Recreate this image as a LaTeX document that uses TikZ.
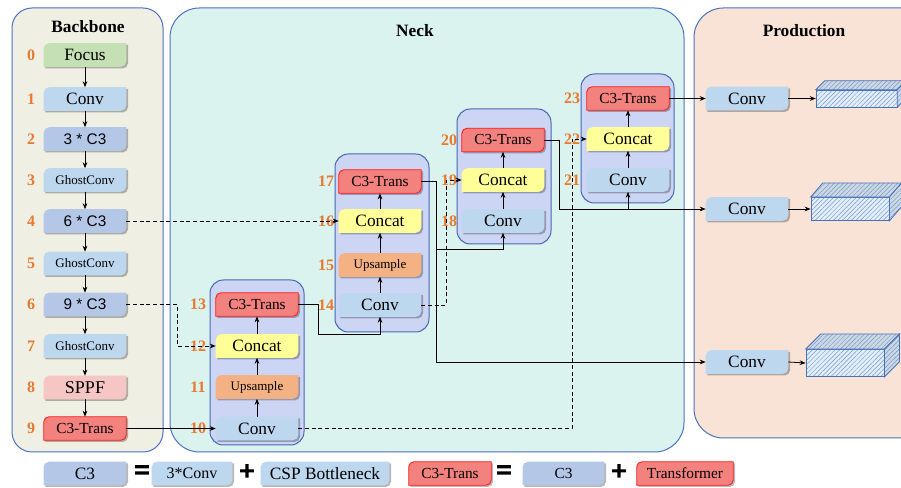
\documentclass[tikz,border=0pt]{standalone}
\usepackage{fontspec}
\setmainfont{Liberation Serif}
\newfontfamily\arialf{Liberation Sans}
\newfontfamily\heavyf[FakeBold=5]{Liberation Sans}
\usetikzlibrary{arrows.meta,patterns.meta}
\definecolor{bbc}{HTML}{EFEFE3}
\definecolor{neckc}{HTML}{DAF3EF}
\definecolor{prodc}{HTML}{F9E3D6}
\definecolor{panelb}{HTML}{4A72C0}
\definecolor{grpc}{HTML}{CDD5F5}
\definecolor{grpb}{HTML}{4568B3}
\definecolor{focusc}{HTML}{C5E0B4}
\definecolor{convc}{HTML}{BDD7EE}
\definecolor{cthree}{HTML}{B4C7E7}
\definecolor{sppfc}{HTML}{F6C6C5}
\definecolor{transc}{HTML}{F3817E}
\definecolor{transb}{HTML}{FF2020}
\definecolor{concatc}{HTML}{FFFF99}
\definecolor{upc}{HTML}{F4B183}
\definecolor{numc}{HTML}{E8792F}
\definecolor{cubebg}{HTML}{E2EEF9}
\definecolor{hatchc}{HTML}{7096D2}
\definecolor{cubeb}{HTML}{4A70B8}
\pgfdeclarelayer{bg}
\pgfdeclarelayer{mid}
\pgfsetlayers{bg,mid,main}
\newcommand\dshape[2]{%
 \fill[black,opacity=0.28] ([shift={(1.3pt,-5.3pt)}]#1.north west) arc[start angle=180,end angle=90,radius=4pt] -- ([shift={(1.3pt,-1.3pt)}]#1.north east) -- ([shift={(1.3pt,2.7pt)}]#1.south east) arc[start angle=0,end angle=-90,radius=4pt] -- ([shift={(1.3pt,-1.3pt)}]#1.south west) -- cycle;
 \path[fill=#2] ([yshift=-4pt]#1.north west) arc[start angle=180,end angle=90,radius=4pt] -- (#1.north east) -- ([yshift=4pt]#1.south east) arc[start angle=0,end angle=-90,radius=4pt] -- (#1.south west) -- cycle;}
\newcommand\tshape[1]{%
 \fill[black,opacity=0.28] ([shift={(1.3pt,-5.3pt)}]#1.north west) arc[start angle=180,end angle=90,radius=4pt] -- ([shift={(1.3pt,-1.3pt)}]#1.north east) -- ([shift={(1.3pt,2.7pt)}]#1.south east) arc[start angle=0,end angle=-90,radius=4pt] -- ([shift={(1.3pt,-1.3pt)}]#1.south west) -- cycle;
 \path[fill=transc,draw=transb,line width=0.7pt] ([yshift=-4pt]#1.north west) arc[start angle=180,end angle=90,radius=4pt] -- (#1.north east) -- ([yshift=4pt]#1.south east) arc[start angle=0,end angle=-90,radius=4pt] -- (#1.south west) -- cycle;}
\begin{document}
\begin{tikzpicture}[x=0.75pt,y=-0.75pt,
  blk/.style={minimum width=61.5pt,minimum height=17.25pt,inner sep=0pt,align=center,font=\fontsize{13}{14}\selectfont},
  small/.style={font=\fontsize{9.75}{11}\selectfont},
  mid/.style={font=\fontsize{11.5}{12}\selectfont},
  sans/.style={font=\arialf\fontsize{11.5}{12}\selectfont},
  num/.style={text=numc,inner sep=0pt,font=\fontsize{12}{12}\selectfont\bfseries},
  ttl/.style={font=\fontsize{13}{14}\selectfont\bfseries},
  sym/.style={inner sep=0pt,font=\heavyf\fontsize{19}{19}\selectfont},
  panel/.style={draw=panelb,line width=0.75pt},
  grp/.style={draw=grpb,fill=grpc,line width=0.75pt,rounded corners=10pt},
  arr/.style={-{Stealth[length=4.5pt,width=3.5pt]},line width=0.6pt},
  dsh/.style={arr,dash pattern=on 3pt off 2pt},
  cube/.style={draw=cubeb,line width=0.6pt,inner sep=0pt,preaction={fill=cubebg},pattern={Lines[angle=45,distance=2.4pt,line width=0.35pt]},pattern color=hatchc},
  cubeside/.style={draw=cubeb,line width=0.6pt,preaction={fill=cubebg!80!gray},pattern={Lines[angle=45,distance=2.4pt,line width=0.35pt]},pattern color=hatchc}
]
\useasboundingbox (0,0) rectangle (901,488);
\clip (0,0) rectangle (901,488);
% panels
\begin{pgfonlayer}{bg}
\path[panel,fill=bbc,rounded corners=15pt] (12,8) rectangle (163,452);
\path[panel,fill=neckc,rounded corners=22pt] (170,8) rectangle (684,452);
\path[panel,fill=prodc,rounded corners=22pt] (694,8) rectangle (940,438);
\path[grp] (210,280) rectangle (304,445);
\path[grp] (335,154) rectangle (429,332);
\path[grp] (457,109) rectangle (551,244);
\path[grp] (581,74) rectangle (674,203);
\end{pgfonlayer}
% titles
\node[ttl] (tb) at (88,27) {Backbone};
\node[ttl] (tn) at (415,31) {Neck};
\node[ttl] (tp) at (804,31) {Production};
% backbone
\node[blk] (b0) at (85,55) {Focus};
\node[blk] (b1) at (85,99) {Conv};
\node[blk,sans] (b2) at (85,139) {3 * C3};
\node[blk,small] (b3) at (85,180) {GhostConv};
\node[blk,sans] (b4) at (85,221) {6 * C3};
\node[blk,small] (b5) at (85,263.5) {GhostConv};
\node[blk,sans] (b6) at (85,304.5) {9 * C3};
\node[blk,small] (b7) at (85,346) {GhostConv};
\node[blk,font=\fontsize{13.5}{14}\selectfont] (b8) at (85,387.5) {SPPF};
\node[blk,mid] (b9) at (85,428.5) {C3-Trans};
\foreach \i/\y in {0/55,1/99,2/139,3/180,4/221,5/263.5,6/304.5,7/346,8/387.5,9/428.5}
  \node[num] (lb\i) at (31,\y) {\i};
% neck group 1
\node[blk] (n10) at (257,428.5) {Conv};
\node[blk,small] (n11) at (257,387) {Upsample};
\node[blk] (n12) at (257,346) {Concat};
\node[blk,mid] (n13) at (257,304.5) {C3-Trans};
% group 2
\node[blk] (n14) at (380,305) {Conv};
\node[blk,small] (n15) at (380,265) {Upsample};
\node[blk] (n16) at (380,221) {Concat};
\node[blk,mid] (n17) at (380,181.5) {C3-Trans};
% group 3
\node[blk] (n18) at (503,221) {Conv};
\node[blk] (n19) at (503,180) {Concat};
\node[blk,mid] (n20) at (503,140) {C3-Trans};
% group 4
\node[blk] (n21) at (628,180) {Conv};
\node[blk] (n22) at (628,139) {Concat};
\node[blk,mid] (n23) at (628,98.5) {C3-Trans};
\foreach \i/\x/\y in {10/198/428.5,11/198/387,12/198/346,13/198/304.5,14/326/305,15/326/265,16/326/221,17/326/181.5,18/449/221,19/449/180,20/449/140,21/572/180,22/572/139,23/572/98.5}
  \node[num] (ln\i) at (\x,\y) {\i};
% production
\node[blk] (p1) at (747,98.5) {Conv};
\node[blk] (p2) at (747,209) {Conv};
\node[blk] (p3) at (747,362) {Conv};
\node[cube,minimum width=60.75pt,minimum height=12.75pt] (q1) at (856.5,98.5) {};
\node[cube,minimum width=58.5pt,minimum height=17.25pt] (q2) at (850,209) {};
\node[cube,minimum width=58.5pt,minimum height=20.25pt] (q3) at (845,363) {};
\foreach \q/\dx/\dy in {q1/9/-9,q2/12/-14,q3/15/-15}{
  \path[cubeside] (\q.north west) -- ++(\dx,\dy) -- ([shift={(\dx,\dy)}]\q.north east) -- (\q.north east) -- cycle;
  \path[cubeside] (\q.north east) -- ++(\dx,\dy) -- ([shift={(\dx,\dy)}]\q.south east) -- (\q.south east) -- cycle;
}
% legend
\node[blk] (g1) at (85,473.5) {C3};
\node[sym] (e1) at (142,472) {=};
\node[blk,font=\fontsize{12}{13}\selectfont,minimum width=60pt] (g2) at (192,473.5) {3*Conv};
\node[sym] (s1) at (247,472) {+};
\node[blk,minimum width=96pt] (g3) at (325,473.5) {CSP Bottleneck};
\node[blk,mid] (g4) at (450,473.5) {C3-Trans};
\node[sym] (e2) at (504,472) {=};
\node[blk,mid,minimum width=60.75pt] (g5) at (563.5,473.5) {C3};
\node[sym] (s2) at (619,472) {+};
\node[blk,mid,minimum width=72pt] (g6) at (685,473.5) {Transformer};
% node shapes
\begin{pgfonlayer}{mid}
\foreach \n/\c in {b0/focusc,b1/convc,b2/cthree,b3/convc,b4/cthree,b5/convc,b6/cthree,b7/convc,b8/sppfc,
  n10/convc,n11/upc,n12/concatc,n14/convc,n15/upc,n16/concatc,n18/convc,n19/concatc,n21/convc,n22/concatc,
  p1/convc,p2/convc,p3/convc,g1/cthree,g2/convc,g3/convc,g5/cthree}
  {\dshape{\n}{\c}}
\foreach \n in {b9,n13,n17,n20,n23,g4,g6}
  {\tshape{\n}}
\end{pgfonlayer}
% backbone arrows
\foreach \a/\b in {b0/b1,b1/b2,b2/b3,b3/b4,b4/b5,b5/b6,b6/b7,b7/b8,b8/b9}
  \draw[arr] (\a.south) -- (\b.north);
\foreach \a/\b in {n10/n11,n11/n12,n12/n13,n14/n15,n15/n16,n16/n17,n18/n19,n19/n20,n21/n22,n22/n23}
  \draw[arr] (\a.north) -- (\b.south);
% coordinates
\coordinate (c6) at (177,304.5);
\coordinate (k13) at (318,334);
\coordinate (k14) at (446,305);
\coordinate (k17) at (436,249);
\coordinate (k20) at (559,209);
\coordinate (k10) at (572,428.5);
% connectors
\draw[dsh] (b4.east) -- (n16.west);
\draw[dsh] (b6.east) -- (c6) |- (n12.west);
\draw[arr] (b9.east) -- (n10.west);
\draw[arr] (n13.east) -| (k13) -| (n14.south);
\draw[dsh] (n14.east) -- (k14) |- (n19.west);
\draw[arr] (n17.east) -| (k17) -| (n18.south);
\draw[arr] (k17) |- (p3.west);
\draw[arr] (n20.east) -| (k20) -- (p2.west);
\draw[arr] (n21.south |- k20) -- (n21.south);
\draw[dsh] (n10.east) -- (k10) |- (n22.west);
\draw[arr] (n23.east) -- (p1.west);
\draw[arr] (p1.east) -- (q1.west);
\draw[arr] (p2.east) -- (q2.west);
\draw[arr] (p3.east) -- (q3.west);
\end{tikzpicture}
\end{document}
